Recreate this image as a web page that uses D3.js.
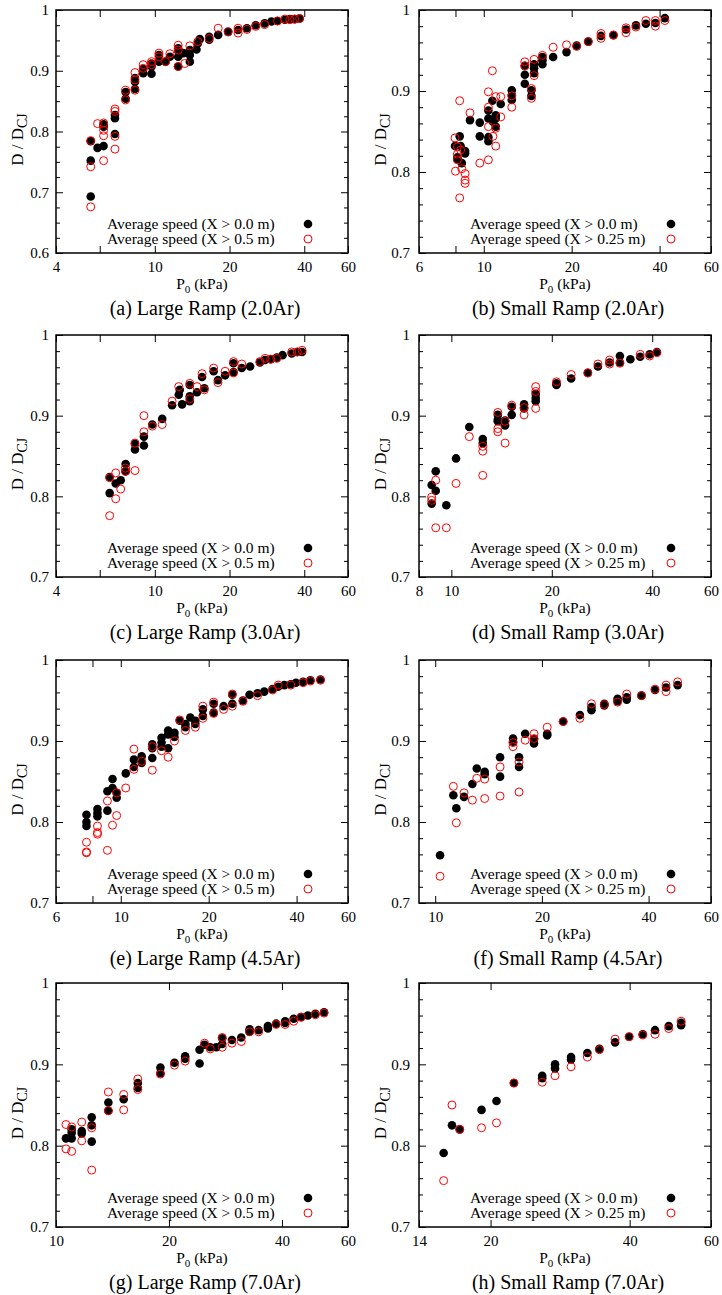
<!DOCTYPE html>
<html><head><meta charset="utf-8">
<script src="https://cdn.jsdelivr.net/npm/d3@7"></script>
<style>
body{margin:0;background:#fff}
svg{display:block}
text{font-family:"Liberation Serif","Times New Roman",serif;fill:#000}
</style>
</head><body><svg id="chart" width="722" height="1295"></svg>
<script>
// ---- data: [P0 (kPa), D/DCJ] ----
const aBlack=[[5.52,.693],[5.52,.752],[5.52,.784],[5.88,.773],[6.22,.776],[6.22,.808],[6.22,.812],[6.91,.796],[6.91,.822],[6.91,.827],[7.63,.854],[7.63,.865],[8.32,.870],[8.32,.882],[8.32,.888],[8.98,.896],[8.98,.903],[9.70,.895],[9.70,.907],[9.70,.912],[10.39,.915],[10.39,.926],[11.05,.915],[11.5,.923],[12.42,.907],[12.42,.923],[12.42,.933],[12.42,.937],[13.0,.929],[13.84,.915],[13.84,.926],[13.84,.934],[14.72,.935],[14.9,.945],[15.18,.952],[16.56,.951],[16.56,.956],[18.0,.959],[19.74,.964],[21.65,.967],[23.5,.970],[25.5,.975],[27.7,.978],[29.5,.981],[31.2,.982],[33.4,.984],[35,.985],[36.6,.985],[38.3,.986]];
const aRed=[[5.52,.676],[5.52,.742],[5.52,.785],[5.88,.813],[6.22,.752],[6.22,.793],[6.22,.802],[6.22,.814],[6.91,.771],[6.91,.792],[6.91,.833],[6.91,.837],[7.63,.852],[7.63,.868],[8.32,.868],[8.32,.885],[8.32,.897],[8.98,.904],[8.98,.910],[9.70,.910],[9.70,.915],[10.39,.923],[10.39,.929],[11.05,.915],[11.5,.928],[12.42,.907],[12.42,.934],[12.42,.942],[13.2,.912],[13.84,.941],[14.9,.948],[16.56,.953],[18.0,.970],[19.74,.964],[21.65,.962],[21.65,.970],[23.5,.968],[25.5,.973],[27.7,.976],[31.2,.982],[33.4,.985],[35,.984],[36.6,.985],[38.3,.986]];
const bBlack=[[7.97,.832],[8.12,.816],[8.12,.818],[8.27,.844],[8.33,.832],[8.41,.811],[8.63,.826],[8.63,.823],[8.97,.864],[9.69,.861],[9.69,.844],[10.37,.876],[10.37,.866],[10.37,.843],[10.37,.838],[10.70,.888],[10.75,.862],[10.99,.870],[10.99,.866],[10.99,.856],[11.43,.884],[12.47,.901],[12.47,.895],[12.47,.889],[13.82,.931],[13.82,.920],[13.82,.909],[14.56,.901],[14.56,.894],[14.87,.933],[14.87,.928],[14.87,.922],[15.88,.942],[15.88,.938],[15.88,.933],[17.28,.942],[19.2,.948],[20.8,.956],[22.8,.961],[25.2,.968],[27.8,.969],[30.7,.976],[33.2,.981],[35.9,.983],[38.7,.984],[41.7,.990]];
const bRed=[[7.97,.842],[8.0,.801],[8.12,.831],[8.12,.822],[8.12,.815],[8.27,.888],[8.27,.768],[8.33,.827],[8.41,.804],[8.63,.798],[8.63,.790],[8.63,.786],[8.97,.873],[9.69,.811],[10.37,.899],[10.37,.880],[10.37,.856],[10.37,.815],[10.70,.925],[10.75,.844],[10.99,.893],[10.99,.854],[10.99,.832],[11.43,.893],[11.43,.868],[12.47,.894],[12.47,.880],[13.82,.936],[13.82,.931],[14.56,.903],[14.56,.891],[14.87,.939],[14.87,.919],[15.88,.944],[17.28,.954],[19.2,.957],[20.8,.955],[22.8,.961],[25.2,.971],[25.2,.965],[27.8,.969],[30.7,.978],[30.7,.972],[33.2,.979],[35.9,.987],[38.7,.987],[38.7,.980],[41.7,.987]];
const cBlack=[[6.58,.804],[6.58,.824],[6.96,.816],[7.29,.820],[7.63,.840],[7.63,.831],[8.32,.865],[8.32,.858],[9.04,.863],[9.04,.874],[9.77,.889],[10.71,.896],[11.74,.913],[12.49,.926],[12.6,.932],[12.88,.914],[13.83,.938],[13.83,.924],[13.83,.918],[14.79,.929],[15.5,.948],[15.83,.934],[17.26,.955],[17.96,.944],[19.2,.950],[20.75,.965],[20.75,.954],[22.4,.959],[24.2,.961],[26.5,.966],[27.8,.969],[29.3,.970],[31.0,.972],[32.7,.975],[35.6,.977],[37.5,.979],[39.2,.979]];
const cRed=[[6.58,.776],[6.58,.823],[6.96,.797],[6.96,.829],[7.29,.809],[7.63,.835],[7.63,.831],[8.32,.832],[8.32,.866],[9.04,.900],[9.04,.880],[9.77,.887],[10.71,.889],[11.74,.918],[12.49,.936],[13.83,.940],[13.83,.921],[14.79,.936],[15.5,.952],[15.83,.932],[17.26,.959],[17.96,.941],[19.2,.955],[20.75,.967],[20.75,.953],[22.4,.964],[26.5,.967],[27.8,.971],[29.3,.970],[31.0,.971],[35.6,.979],[37.5,.979],[39.2,.981]];
const dBlack=[[8.73,.814],[8.73,.791],[8.98,.831],[8.98,.807],[9.66,.789],[10.33,.847],[11.32,.886],[12.42,.871],[12.42,.866],[13.78,.901],[13.78,.895],[13.78,.893],[14.49,.888],[14.49,.894],[15.17,.901],[15.17,.911],[16.52,.914],[16.52,.909],[17.9,.927],[17.9,.918],[17.9,.922],[20.66,.940],[20.66,.938],[22.86,.946],[25.65,.953],[27.5,.961],[29.8,.966],[32.0,.974],[32.0,.966],[34.4,.970],[36.8,.973],[39.3,.976],[41.3,.979]];
const dRed=[[8.73,.799],[8.73,.795],[8.98,.820],[8.98,.761],[9.66,.761],[10.33,.816],[11.32,.874],[12.42,.826],[12.42,.856],[12.42,.862],[13.78,.904],[13.78,.884],[13.78,.880],[14.49,.866],[14.49,.893],[15.17,.913],[16.52,.901],[16.52,.910],[17.9,.936],[17.9,.930],[17.9,.909],[20.66,.942],[22.86,.951],[25.65,.953],[27.5,.964],[29.8,.969],[29.8,.964],[32.0,.965],[36.8,.976],[39.3,.974],[41.3,.978]];
const eBlack=[[7.63,.809],[7.63,.800],[7.63,.795],[8.32,.816],[8.32,.811],[8.32,.807],[9.0,.838],[9.0,.814],[9.37,.853],[9.37,.842],[9.68,.830],[9.68,.836],[10.4,.860],[11.09,.877],[11.09,.868],[11.79,.881],[11.79,.873],[12.82,.896],[12.82,.891],[12.82,.879],[13.79,.904],[13.79,.898],[13.79,.893],[14.53,.913],[14.53,.908],[14.53,.891],[15.27,.910],[15.27,.905],[15.92,.925],[16.65,.921],[16.65,.917],[17.3,.929],[18.0,.925],[18.0,.921],[19.1,.939],[19.1,.931],[20.8,.946],[20.8,.935],[22.5,.943],[24.1,.957],[24.1,.946],[26.2,.950],[27.6,.957],[29.4,.959],[31.0,.961],[33.1,.964],[34.6,.967],[36.3,.969],[38.2,.970],[39.8,.972],[42.1,.973],[44.6,.975],[48.3,.976]];
const eRed=[[7.63,.775],[7.63,.763],[7.63,.762],[8.32,.795],[8.32,.787],[8.32,.785],[9.0,.826],[9.0,.765],[9.37,.796],[9.68,.808],[9.68,.836],[10.4,.842],[11.09,.890],[11.09,.865],[11.79,.875],[12.82,.864],[12.82,.893],[13.79,.888],[14.53,.880],[15.27,.900],[15.92,.926],[16.65,.913],[18.0,.917],[19.1,.943],[19.1,.928],[20.8,.948],[20.8,.934],[22.5,.939],[24.1,.958],[24.1,.943],[26.2,.949],[29.4,.956],[33.1,.963],[34.6,.969],[38.2,.969],[42.1,.972],[44.6,.974],[48.3,.975]];
const fBlack=[[10.32,.759],[11.25,.833],[11.47,.817],[12.06,.831],[12.73,.847],[13.1,.866],[13.79,.862],[13.79,.859],[15.24,.880],[15.24,.856],[16.58,.903],[16.58,.899],[17.24,.880],[17.24,.868],[17.94,.909],[19.0,.897],[19.0,.902],[20.7,.909],[20.7,.907],[22.96,.924],[25.6,.932],[27.6,.938],[27.6,.942],[30.0,.946],[30.0,.944],[32.7,.952],[32.7,.949],[34.7,.954],[34.7,.951],[38.2,.956],[41.7,.963],[44.8,.966],[48.3,.969]];
const fRed=[[10.32,.733],[11.25,.844],[11.47,.799],[12.06,.836],[12.73,.827],[13.1,.854],[13.79,.853],[13.79,.829],[15.24,.868],[15.24,.832],[16.58,.898],[16.58,.893],[17.24,.874],[17.24,.837],[17.94,.901],[19.0,.909],[19.0,.903],[20.7,.917],[22.96,.924],[25.6,.928],[27.6,.946],[30.0,.945],[32.7,.948],[34.7,.958],[38.2,.956],[41.7,.964],[44.8,.969],[44.8,.961],[48.3,.973]];
const gBlack=[[10.63,.809],[11.01,.820],[11.01,.816],[11.01,.809],[11.71,.818],[11.71,.815],[12.45,.835],[12.45,.825],[12.45,.805],[13.79,.853],[13.79,.843],[15.15,.857],[16.52,.877],[16.52,.871],[18.98,.896],[18.98,.889],[20.69,.902],[22.09,.910],[22.09,.907],[24.13,.918],[24.13,.901],[24.88,.924],[25.76,.921],[26.73,.921],[27.73,.932],[27.73,.925],[29.43,.930],[31.17,.933],[32.8,.943],[32.8,.940],[34.67,.942],[36.7,.947],[36.7,.944],[38.6,.950],[40.8,.953],[40.8,.951],[43.0,.956],[45.0,.958],[46.9,.960],[49.1,.962],[51.8,.964]];
const gRed=[[10.63,.826],[10.63,.796],[11.01,.823],[11.01,.793],[11.71,.829],[11.71,.806],[12.45,.822],[12.45,.770],[13.79,.866],[13.79,.843],[15.15,.863],[15.15,.844],[16.52,.882],[16.52,.869],[18.98,.888],[20.69,.899],[22.09,.904],[24.88,.926],[25.76,.919],[27.73,.933],[27.73,.921],[29.43,.926],[31.17,.928],[32.8,.940],[34.67,.940],[38.6,.949],[40.8,.949],[43.0,.953],[45.0,.958],[49.1,.961],[51.8,.963]];
const hBlack=[[15.83,.791],[16.5,.825],[17.15,.820],[19.12,.844],[20.6,.855],[22.47,.877],[25.87,.886],[25.87,.883],[27.58,.900],[27.58,.895],[29.87,.909],[29.87,.906],[32.4,.914],[34.4,.919],[37.2,.927],[39.9,.934],[42.7,.937],[45.4,.942],[48.6,.947],[51.7,.951],[51.7,.948]];
const hRed=[[15.83,.757],[16.5,.850],[17.15,.820],[19.12,.822],[20.6,.828],[22.47,.877],[25.87,.878],[27.58,.886],[29.87,.897],[32.4,.909],[34.4,.918],[37.2,.931],[39.9,.934],[42.7,.936],[45.4,.937],[48.6,.944],[51.7,.953]];

// ---- axis ticks / labels ----
const xTicksA=[4,6,10,20,40,60],  xLabelsA=[4,10,20,40,60];
const xTicksB=[6,8,10,20,40,60],  xLabelsB=[6,10,20,40,60];
const xTicksD=[8,10,20,40,60],    xLabelsD=[8,10,20,40,60];
const xTicksF=[10,20,40,60],      xLabelsF=[10,20,40,60];
const xTicksH=[14,20,40,60],      xLabelsH=[14,20,40,60];
const yTicks06=[0.6,0.7,0.8,0.9,1.0];
const yTicks07=[0.7,0.8,0.9,1.0];
const captions=["(a) Large Ramp (2.0Ar)","(b) Small Ramp (2.0Ar)","(c) Large Ramp (3.0Ar)","(d) Small Ramp (3.0Ar)","(e) Large Ramp (4.5Ar)","(f) Small Ramp (4.5Ar)","(g) Large Ramp (7.0Ar)","(h) Small Ramp (7.0Ar)"];
const legendBlack="Average speed (X > 0.0 m)";
const legendRedLarge="Average speed (X > 0.5 m)";
const legendRedSmall="Average speed (X > 0.25 m)";

const panels=[
 {black:aBlack,red:aRed,xd:[4,60],xt:xTicksA,xl:xLabelsA,yd:[0.6,1],yt:yTicks06,ym:4,leg:legendRedLarge},
 {black:bBlack,red:bRed,xd:[6,60],xt:xTicksB,xl:xLabelsB,yd:[0.7,1],yt:yTicks07,ym:5,leg:legendRedSmall},
 {black:cBlack,red:cRed,xd:[4,60],xt:xTicksA,xl:xLabelsA,yd:[0.7,1],yt:yTicks07,ym:5,leg:legendRedLarge},
 {black:dBlack,red:dRed,xd:[8,60],xt:xTicksD,xl:xLabelsD,yd:[0.7,1],yt:yTicks07,ym:5,leg:legendRedSmall},
 {black:eBlack,red:eRed,xd:[6,60],xt:xTicksB,xl:xLabelsB,yd:[0.7,1],yt:yTicks07,ym:5,leg:legendRedLarge},
 {black:fBlack,red:fRed,xd:[9,60],xt:xTicksF,xl:xLabelsF,yd:[0.7,1],yt:yTicks07,ym:5,leg:legendRedSmall},
 {black:gBlack,red:gRed,xd:[10,60],xt:xTicksF,xl:xLabelsF,yd:[0.7,1],yt:yTicks07,ym:5,leg:legendRedLarge},
 {black:hBlack,red:hRed,xd:[14,60],xt:xTicksH,xl:xLabelsH,yd:[0.7,1],yt:yTicks07,ym:5,leg:legendRedSmall}
];

// ---- layout ----
const colL=[56,419], colR=[348,711];
const rowT=[10,335,660,983], rowB=[253,577,903,1227];

const svg=d3.select("#chart");
const fmtY=d=>Math.abs(d-1)<1e-9?"1":d3.format(".1f")(d);
const SERIF='"Liberation Serif","Times New Roman",serif';

panels.forEach((p,i)=>{
  const col=i%2,row=Math.floor(i/2);
  const L=colL[col],R=colR[col],T=rowT[row],B=rowB[row];
  const x=d3.scaleLog().domain(p.xd).range([L,R]);
  const y=d3.scaleLinear().domain(p.yd).range([B,T]);
  const g=svg.append("g");

  // minor y ticks
  const step=0.1/p.ym;
  const n=Math.round((p.yd[1]-p.yd[0])/step);
  const minor=d3.range(n+1).map(k=>p.yd[0]+k*step).filter(v=>!p.yt.some(t=>Math.abs(t-v)<1e-9));

  const styleAxis=sel=>{sel.attr("font-family",SERIF);sel.select(".domain").remove();
    sel.selectAll("line").attr("stroke","#000").attr("stroke-width",1);
    sel.selectAll("text").style("font-family",SERIF).style("font-size","15px").attr("fill","#000");};

  g.append("g").attr("transform",`translate(0,${B})`)
    .call(d3.axisBottom(x).tickValues(p.xt).tickSizeInner(-7).tickSizeOuter(0).tickPadding(8)
      .tickFormat(d=>p.xl.includes(d)?String(d):"")).call(styleAxis);
  g.append("g").attr("transform",`translate(0,${T})`)
    .call(d3.axisTop(x).tickValues(p.xt).tickSizeInner(-7).tickSizeOuter(0).tickFormat("")).call(styleAxis);
  g.append("g").attr("transform",`translate(${L},0)`)
    .call(d3.axisLeft(y).tickValues(p.yt).tickSizeInner(-7).tickSizeOuter(0).tickPadding(col===0?7:9).tickFormat(fmtY)).call(styleAxis);
  g.append("g").attr("transform",`translate(${L},0)`)
    .call(d3.axisLeft(y).tickValues(minor).tickSizeInner(-4).tickSizeOuter(0).tickFormat("")).call(styleAxis);
  g.append("g").attr("transform",`translate(${R},0)`)
    .call(d3.axisRight(y).tickValues(p.yt).tickSizeInner(-7).tickSizeOuter(0).tickFormat("")).call(styleAxis);
  g.append("g").attr("transform",`translate(${R},0)`)
    .call(d3.axisRight(y).tickValues(minor).tickSizeInner(-4).tickSizeOuter(0).tickFormat("")).call(styleAxis);

  // points
  g.append("g").selectAll("circle").data(p.black).join("circle")
    .attr("cx",d=>x(d[0])).attr("cy",d=>y(d[1])).attr("r",4.3).attr("fill","#000");
  g.append("g").selectAll("circle").data(p.red).join("circle")
    .attr("cx",d=>x(d[0])).attr("cy",d=>y(d[1])).attr("r",4).attr("fill","none").attr("stroke","#ff0000").attr("stroke-width",1);

  // frame
  g.append("rect").attr("x",L).attr("y",T).attr("width",R-L).attr("height",B-T)
    .attr("fill","none").attr("stroke","#000").attr("stroke-width",1.5);

  // legend
  const lx=R-241, sx=R-40;
  [[legendBlack,B-29,true],[p.leg,B-14,false]].forEach(([t,yy,filled])=>{
    g.append("text").attr("x",lx).attr("y",yy+5).style("font-size","15.5px").text(t);
    const c=g.append("circle").attr("cx",sx).attr("cy",yy).attr("r",filled?4.3:4);
    if(filled) c.attr("fill","#000"); else c.attr("fill","none").attr("stroke","#ff0000").attr("stroke-width",1);
  });

  // x label
  const xl=g.append("text").attr("x",(L+R)/2).attr("y",B+36).attr("text-anchor","middle").style("font-size","15.5px");
  xl.append("tspan").text("P");
  xl.append("tspan").attr("dy",4).style("font-size","11px").text("0");
  xl.append("tspan").attr("dy",-4).text(" (kPa)");

  // y label
  const yl=g.append("text").attr("transform",`translate(${L-33},${(T+B)/2+8}) rotate(-90)`).attr("text-anchor","middle").style("font-size","17px");
  yl.append("tspan").text("D / D");
  yl.append("tspan").attr("dy",4).style("font-size","14px").text("CJ");

  // caption
  g.append("text").attr("x",(L+R)/2+3).attr("y",B+62).attr("text-anchor","middle").style("font-size","20px").text(captions[i]);
});
</script>
</body></html>
